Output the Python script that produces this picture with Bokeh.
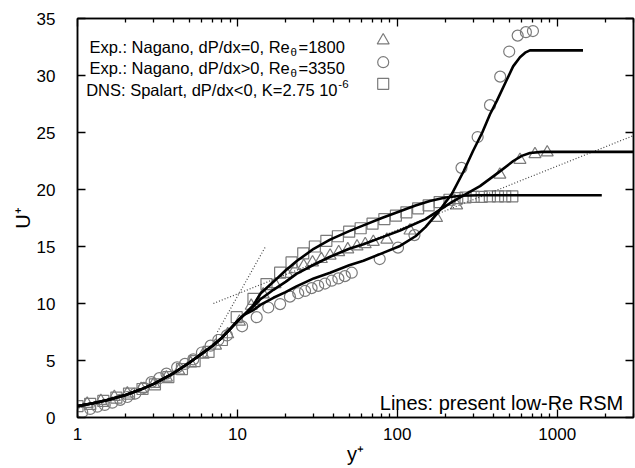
from bokeh.plotting import figure
from bokeh.models import LogAxis, LinearAxis, Range1d, LinearScale, FixedTicker, PrintfTickFormatter
from bokeh.core.properties import value
from bokeh.embed import file_html
from bokeh.resources import INLINE

FONT = "Liberation Sans"
GRAY = "#7a7a7a"

# ---------------- data ----------------
# Exp. Nagano, dP/dx>0, Re_theta=3350 (circles)
circ_y = [1.07, 1.2, 1.33, 1.48, 1.65, 1.85, 2.05, 2.3, 2.6, 2.9, 3.25, 3.6, 4.2, 4.7, 5.3, 6.0, 6.8, 7.6, 8.6,
          10.7, 13.2, 15.6, 18.5, 21.3, 24.0, 26.5, 29.1, 32.0, 35.3, 38.9, 42.8, 47.0, 51.9,
          77.6, 101, 128, 252, 318, 380, 440, 501, 566, 637, 705]
circ_u = [0.45, 0.75, 0.95, 1.1, 1.3, 1.55, 1.8, 2.1, 2.6, 3.1, 3.45, 3.85, 4.4, 4.7, 5.1, 5.7, 6.3, 6.8, 7.2,
          8.0, 8.8, 9.65, 9.95, 10.6, 10.9, 11.1, 11.35, 11.55, 11.75, 12.0, 12.2, 12.4, 12.7,
          13.9, 14.9, 16.0, 21.9, 24.6, 27.4, 29.9, 32.1, 33.5, 33.8, 33.9]

# Exp. Nagano, dP/dx=0, Re_theta=1800 (triangles)
tri_y = [1.15, 1.4, 1.7, 2.05, 2.5, 3.0, 3.6, 4.3, 5.1, 6.1, 7.3, 8.7, 10.3,
         12.2, 14.5, 17.2, 20.4, 23.0, 26.0, 29.5, 33.5, 38.0, 43.0, 49.0, 56.0, 63.0, 70.8,
         86, 120, 176, 235, 438, 585, 726, 866]
tri_u = [1.2, 1.45, 1.8, 2.1, 2.5, 2.95, 3.5, 4.1, 4.75, 5.5, 6.3, 7.3, 8.4,
         9.8, 10.8, 11.7, 12.6, 13.0, 13.3, 13.6, 13.9, 14.2, 14.5, 14.75, 15.0, 15.2, 15.4,
         15.6, 16.4, 17.5, 18.6, 21.3, 22.6, 23.1, 23.25]

# DNS Spalart, dP/dx<0, K=2.75e-6 (squares)
sq_y = [1.0, 1.2, 1.45, 1.75, 2.1, 2.55, 3.05, 3.7, 4.5, 5.4, 6.6, 8.0, 9.9,
        12.6, 15.2, 18.5, 21.8, 25.8, 30.5, 36, 42.5, 50, 59, 70, 83, 98,
        114, 135, 157, 184, 212, 237, 267, 300, 337, 379, 426, 473, 524]
sq_u = [1.0, 1.2, 1.45, 1.75, 2.1, 2.5, 2.9, 3.55, 4.25, 4.95, 5.75, 6.8, 8.8,
        10.4, 11.7, 12.7, 13.6, 14.4, 15.0, 15.5, 15.9, 16.3, 16.6, 17.0, 17.4, 17.7,
        18.0, 18.35, 18.6, 18.9, 19.1, 19.25, 19.3, 19.35, 19.35, 19.4, 19.4, 19.4, 19.4]

# present low-Re RSM (lines)
common_y = [1, 1.25, 1.5, 2, 2.5, 3, 4, 5, 6, 7, 8, 9, 10, 11]
common_u = [1.0, 1.25, 1.5, 1.97, 2.47, 2.95, 3.9, 4.8, 5.6, 6.3, 7.0, 7.75, 8.45, 9.0]

rsm_sq_y = [12.5, 14, 16.8, 20, 23.4, 30, 38, 50, 61.4, 80, 104, 130, 160, 200, 250, 320, 1900]
rsm_sq_u = [9.8, 10.9, 11.9, 12.9, 13.7, 14.8, 15.6, 16.35, 16.85, 17.5, 18.1, 18.6, 19.0, 19.3, 19.45, 19.5, 19.5]

rsm_tri_y = [12.5, 14, 16.8, 20, 23.4, 30, 38, 50, 61.4, 80, 104, 150, 219, 329, 430, 531, 600, 675, 800, 3000]
rsm_tri_u = [9.7, 10.4, 11.2, 11.9, 12.6, 13.4, 14.1, 14.8, 15.2, 15.8, 16.4, 17.4, 18.9, 20.3, 21.5, 22.5, 22.95, 23.2, 23.3, 23.3]

rsm_circ_y = [12.5, 14, 16.8, 20, 23.4, 30, 38, 50, 61.4, 80, 104, 130, 150, 180, 219, 260, 298, 340, 380,
              420, 483, 530, 585, 630, 675, 1450]
rsm_circ_u = [9.4, 9.9, 10.5, 11.0, 11.5, 12.2, 12.7, 13.35, 13.75, 14.4, 15.05, 15.9, 16.7, 18.0, 19.6, 21.6,
              23.4, 25.0, 26.6, 27.8, 29.6, 30.8, 31.6, 32.0, 32.2, 32.2]

# reference laws (dotted)
lin_y = [7.5, 15.0]
lin_u = [7.5, 15.0]
log_y = [7.08, 3000]
log_u = [10.0, 24.73]

x_major = [1, 10, 100, 1000]
x_minor = [m * 10 ** e for e in range(0, 4) for m in range(2, 10)]
y_major = [0, 5, 10, 15, 20, 25, 30, 35]

legend_labels = ["Exp.: Nagano, dP/dx=0, Re", "Exp.: Nagano, dP/dx>0, Re", "DNS: Spalart, dP/dx<0, K=2.75 10"]
legend_after = ["=1800", "=3350"]

# ---------------- figure ----------------
p = figure(width=635, height=468, x_axis_type="log", x_range=Range1d(1, 3000), y_range=Range1d(0, 35),
           title=None, output_backend="svg", toolbar_location=None,
           min_border_left=77, min_border_right=2, min_border_top=18, min_border_bottom=51)
p.background_fill_color = "white"
p.border_fill_color = "white"
p.grid.visible = False
p.outline_line_color = "black"
p.outline_line_width = 1.5

xt = FixedTicker(ticks=x_major, minor_ticks=x_minor)
yt = FixedTicker(ticks=y_major, minor_ticks=[])


def style(ax, labels=True, minor=True):
    ax.axis_line_color = "black"
    ax.axis_line_width = 1.5
    ax.major_tick_in = 8
    ax.major_tick_out = 0
    ax.minor_tick_in = 4 if minor else 0
    ax.minor_tick_out = 0
    ax.major_tick_line_width = 1.3
    ax.minor_tick_line_width = 1.3
    ax.major_tick_line_color = "black"
    ax.minor_tick_line_color = "black"
    ax.major_label_text_font = FONT
    ax.major_label_text_color = "black"
    ax.major_label_text_font_size = "17px"
    if not labels:
        ax.major_label_text_font_size = "1px"
        ax.major_label_text_alpha = 0
    ax.axis_label_text_font = FONT
    ax.axis_label_text_font_style = "normal"
    ax.axis_label_text_font_size = "20px"
    ax.axis_label_text_color = "black"


xa = p.xaxis[0]
ya = p.yaxis[0]
xa.ticker = xt
xa.formatter = PrintfTickFormatter(format="%d")
ya.ticker = yt
style(xa)
style(ya, minor=False)
xa.major_label_standoff = 10
xa.axis_label = "y⁺"
xa.axis_label_standoff = 0
ya.major_label_standoff = 22
ya.axis_label = "U⁺"
ya.axis_label_standoff = 0

top = LogAxis(ticker=xt, major_label_standoff=0)
style(top, labels=False)
p.add_layout(top, "above")
right = LinearAxis(ticker=yt, major_label_standoff=0)
style(right, labels=False, minor=False)
p.add_layout(right, "right")

# pixel coordinates inside the frame for legend / notes
FW, FH = 556, 399
p.extra_x_ranges = {"px": Range1d(0, FW)}
p.extra_y_ranges = {"px": Range1d(0, FH)}
p.extra_x_scales = {"px": LinearScale()}
p.extra_y_scales = {"px": LinearScale()}

# markers
mk = dict(line_color=GRAY, fill_color=None, line_width=1.2)
p.scatter(tri_y, tri_u, marker="triangle", size=12, **mk)
p.scatter(circ_y, circ_u, marker="circle", size=11, **mk)
p.scatter(sq_y, sq_u, marker="square", size=11, **mk)

# dotted laws
p.line(lin_y, lin_u, line_color="#444444", line_width=1.2, line_dash="1 2")
p.line(log_y, log_u, line_color="#444444", line_width=1.2, line_dash="1 2")

# model lines
for ys, us in [(rsm_sq_y, rsm_sq_u), (rsm_tri_y, rsm_tri_u), (rsm_circ_y, rsm_circ_u)]:
    p.line(common_y + ys, common_u + us, line_color="black", line_width=2.6, line_join="round")

# legend (in frame pixels)
rows_base = [370.3, 349.3, 327.7]
main_right = [212.3, 212.3, 260.0]
tfont = value(FONT)
p.text(x=main_right, y=rows_base, text=legend_labels, x_range_name="px", y_range_name="px",
       text_font=tfont, text_font_size="16.5px", text_align="right", text_baseline="alphabetic",
       text_color="black")
p.text(x=[213.0, 213.0], y=[rows_base[0] - 5, rows_base[1] - 5], text=["θ", "θ"],
       x_range_name="px", y_range_name="px", text_font=tfont, text_font_size="11.5px",
       text_align="left", text_baseline="alphabetic", text_color="black")
p.text(x=[221.0, 221.0], y=rows_base[:2], text=legend_after, x_range_name="px", y_range_name="px",
       text_font=tfont, text_font_size="16.5px", text_align="left", text_baseline="alphabetic",
       text_color="black")
p.text(x=[260.8], y=[rows_base[2] + 6], text=["-6"], x_range_name="px", y_range_name="px",
       text_font=tfont, text_font_size="11.5px", text_align="left", text_baseline="alphabetic",
       text_color="black")
lx = [305.7]
p.scatter(lx, [377.0], marker="triangle", size=12, x_range_name="px", y_range_name="px", **mk)
p.scatter(lx, [355.3], marker="circle", size=11, x_range_name="px", y_range_name="px", **mk)
p.scatter(lx, [333.7], marker="square", size=11, x_range_name="px", y_range_name="px", **mk)

p.text(x=[545.7], y=[15.0], text=["Lines: present low-Re RSM"], x_range_name="px", y_range_name="px",
       text_font=tfont, text_font_size="20px", text_align="right", text_baseline="alphabetic",
       text_color="black")

open("out.html", "w").write(file_html(p, INLINE))
